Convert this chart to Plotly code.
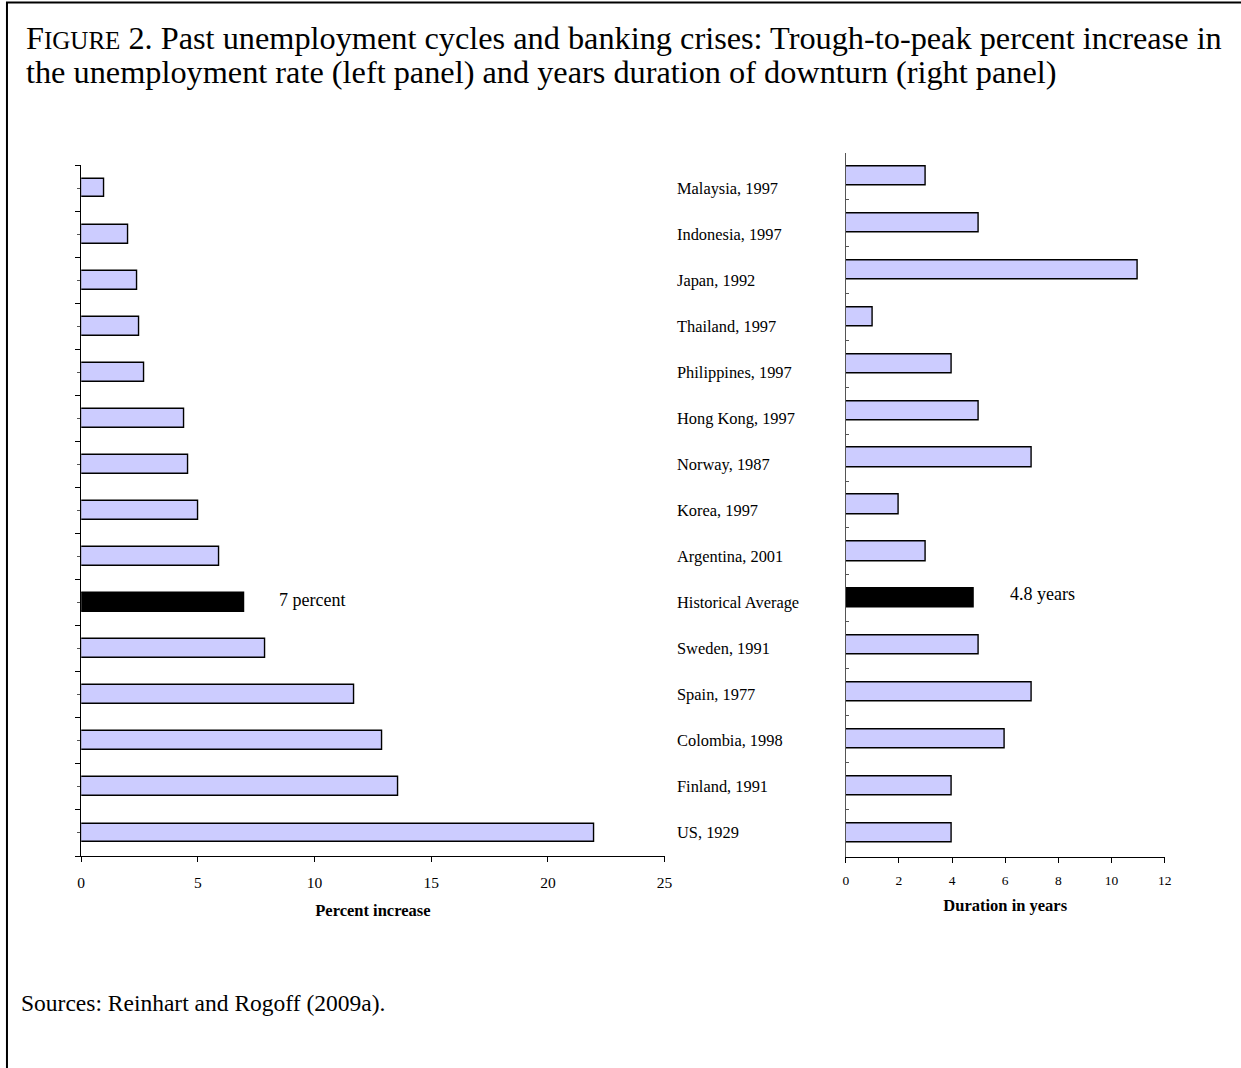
import plotly.graph_objects as go

W, H = 1241, 1068

categories = ["Malaysia, 1997", "Indonesia, 1997", "Japan, 1992", "Thailand, 1997",
              "Philippines, 1997", "Hong Kong, 1997", "Norway, 1987", "Korea, 1997",
              "Argentina, 2001", "Historical Average", "Sweden, 1991", "Spain, 1977",
              "Colombia, 1998", "Finland, 1991", "US, 1929"]
pct_increase = [1.0, 2.0, 2.4, 2.5, 2.7, 4.4, 4.6, 5.0, 5.9, 7.0, 7.9, 11.7, 12.9, 13.6, 22.0]
duration_years = [3, 5, 11, 1, 4, 5, 7, 2, 3, 4.8, 5, 7, 6, 4, 4]
left_ticks = [0, 5, 10, 15, 20, 25]
right_ticks = [0, 2, 4, 6, 8, 10, 12]
avg_label_left = "7 percent"
avg_label_right = "4.8 years"
title_line1 = ('F<span style="font-size:25px">IGURE</span> 2. Past unemployment cycles and '
               'banking crises: Trough-to-peak percent increase in')
title_line2 = "the unemployment rate (left panel) and years duration of downturn (right panel)"
source_text = "Sources: Reinhart and Rogoff (2009a)."

FONT = "Liberation Serif"
BAR = "#CCCCFF"
idx = list(range(len(categories)))
avg_i = categories.index("Historical Average")
colors = ["black" if i == avg_i else BAR for i in idx]


def px_x(p):
    return p / W


def px_y(p):
    return 1 - p / H


fig = go.Figure()
fig.add_trace(go.Bar(x=pct_increase, y=idx, orientation="h", width=0.41,
                     marker=dict(color=colors, line=dict(color="black", width=1.4)),
                     xaxis="x", yaxis="y", showlegend=False, hoverinfo="skip"))
fig.add_trace(go.Bar(x=duration_years, y=idx, orientation="h", width=0.41,
                     marker=dict(color=colors, line=dict(color="black", width=1.4)),
                     xaxis="x2", yaxis="y2", showlegend=False, hoverinfo="skip"))

bounds = [i - 0.5 for i in range(len(categories) + 1)]

fig.update_layout(
    width=W, height=H, margin=dict(l=0, r=0, t=0, b=0),
    paper_bgcolor="white", plot_bgcolor="white",
    font=dict(family=FONT, color="black"),
    xaxis=dict(domain=[px_x(78), px_x(667)], range=[0, 25], tickvals=left_ticks,
               showgrid=False, zeroline=False, showline=True, linecolor="black", linewidth=1,
               ticks="outside", ticklen=5, tickcolor="black", tickfont=dict(size=15.5, family=FONT),
               ticklabelstandoff=7, anchor="y",
               title=dict(text="<b>Percent increase</b>", font=dict(size=16.5, family=FONT), standoff=14)),
    yaxis=dict(domain=[px_y(856), px_y(165)], range=[len(categories) - 0.5, -0.5],
               showgrid=False, zeroline=False, showline=True, linecolor="black", linewidth=1,
               tickvals=bounds, ticks="outside", ticklen=5, tickcolor="black",
               showticklabels=False, anchor="x",
               minor=dict(tickvals=idx, ticks="outside", ticklen=3, tickcolor="#555")),
    xaxis2=dict(domain=[px_x(850), px_x(1172)], range=[0, 12], tickvals=right_ticks,
                showgrid=False, zeroline=False, showline=True, linecolor="black", linewidth=1,
                ticks="outside", ticklen=5, tickcolor="black", tickfont=dict(size=13.5, family=FONT),
                ticklabelstandoff=6, anchor="y2",
                title=dict(text="<b>Duration in years</b>", font=dict(size=16.5, family=FONT), standoff=12)),
    yaxis2=dict(domain=[px_y(856.5), px_y(152.5)], range=[len(categories) - 0.5, -0.5],
                showgrid=False, zeroline=False, showline=True, linecolor="#555", linewidth=1,
                tickvals=bounds, ticks="inside", ticklen=3, tickcolor="#555",
                showticklabels=False, anchor="x2"),
    bargap=0,
)

ann = []
for i, c in zip(idx, categories):
    ann.append(dict(text=c, xref="paper", yref="y", x=px_x(678), y=i, xanchor="left",
                    yanchor="middle", showarrow=False, font=dict(size=16.4, family=FONT)))
ann.append(dict(text=avg_label_left, xref="x", yref="y", x=8.4, y=avg_i, yshift=3,
                xanchor="left", yanchor="middle", showarrow=False, font=dict(size=18, family=FONT)))
ann.append(dict(text=avg_label_right, xref="x2", yref="y2", x=6.1, y=avg_i, yshift=4,
                xanchor="left", yanchor="middle", showarrow=False, font=dict(size=18, family=FONT)))
ann.append(dict(text=title_line1,
                xref="paper", yref="paper", x=px_x(20), y=px_y(38), xanchor="left", yanchor="middle",
                showarrow=False, font=dict(size=32.3, family=FONT)))
ann.append(dict(text=title_line2,
                xref="paper", yref="paper", x=px_x(20), y=px_y(72), xanchor="left", yanchor="middle",
                showarrow=False, font=dict(size=32.3, family=FONT)))
ann.append(dict(text=source_text,
                xref="paper", yref="paper", x=px_x(15), y=px_y(1003), xanchor="left", yanchor="middle",
                showarrow=False, font=dict(size=23.5, family=FONT)))
fig.update_layout(annotations=ann)

fig.add_shape(type="rect", xref="paper", yref="paper", x0=px_x(3), x1=1.05,
              y0=-0.05, y1=px_y(2.5), line=dict(color="black", width=2), fillcolor="rgba(0,0,0,0)")

fig.write_html("out.html", config={"displayModeBar": False},
               post_script="document.body.style.margin='0';")
